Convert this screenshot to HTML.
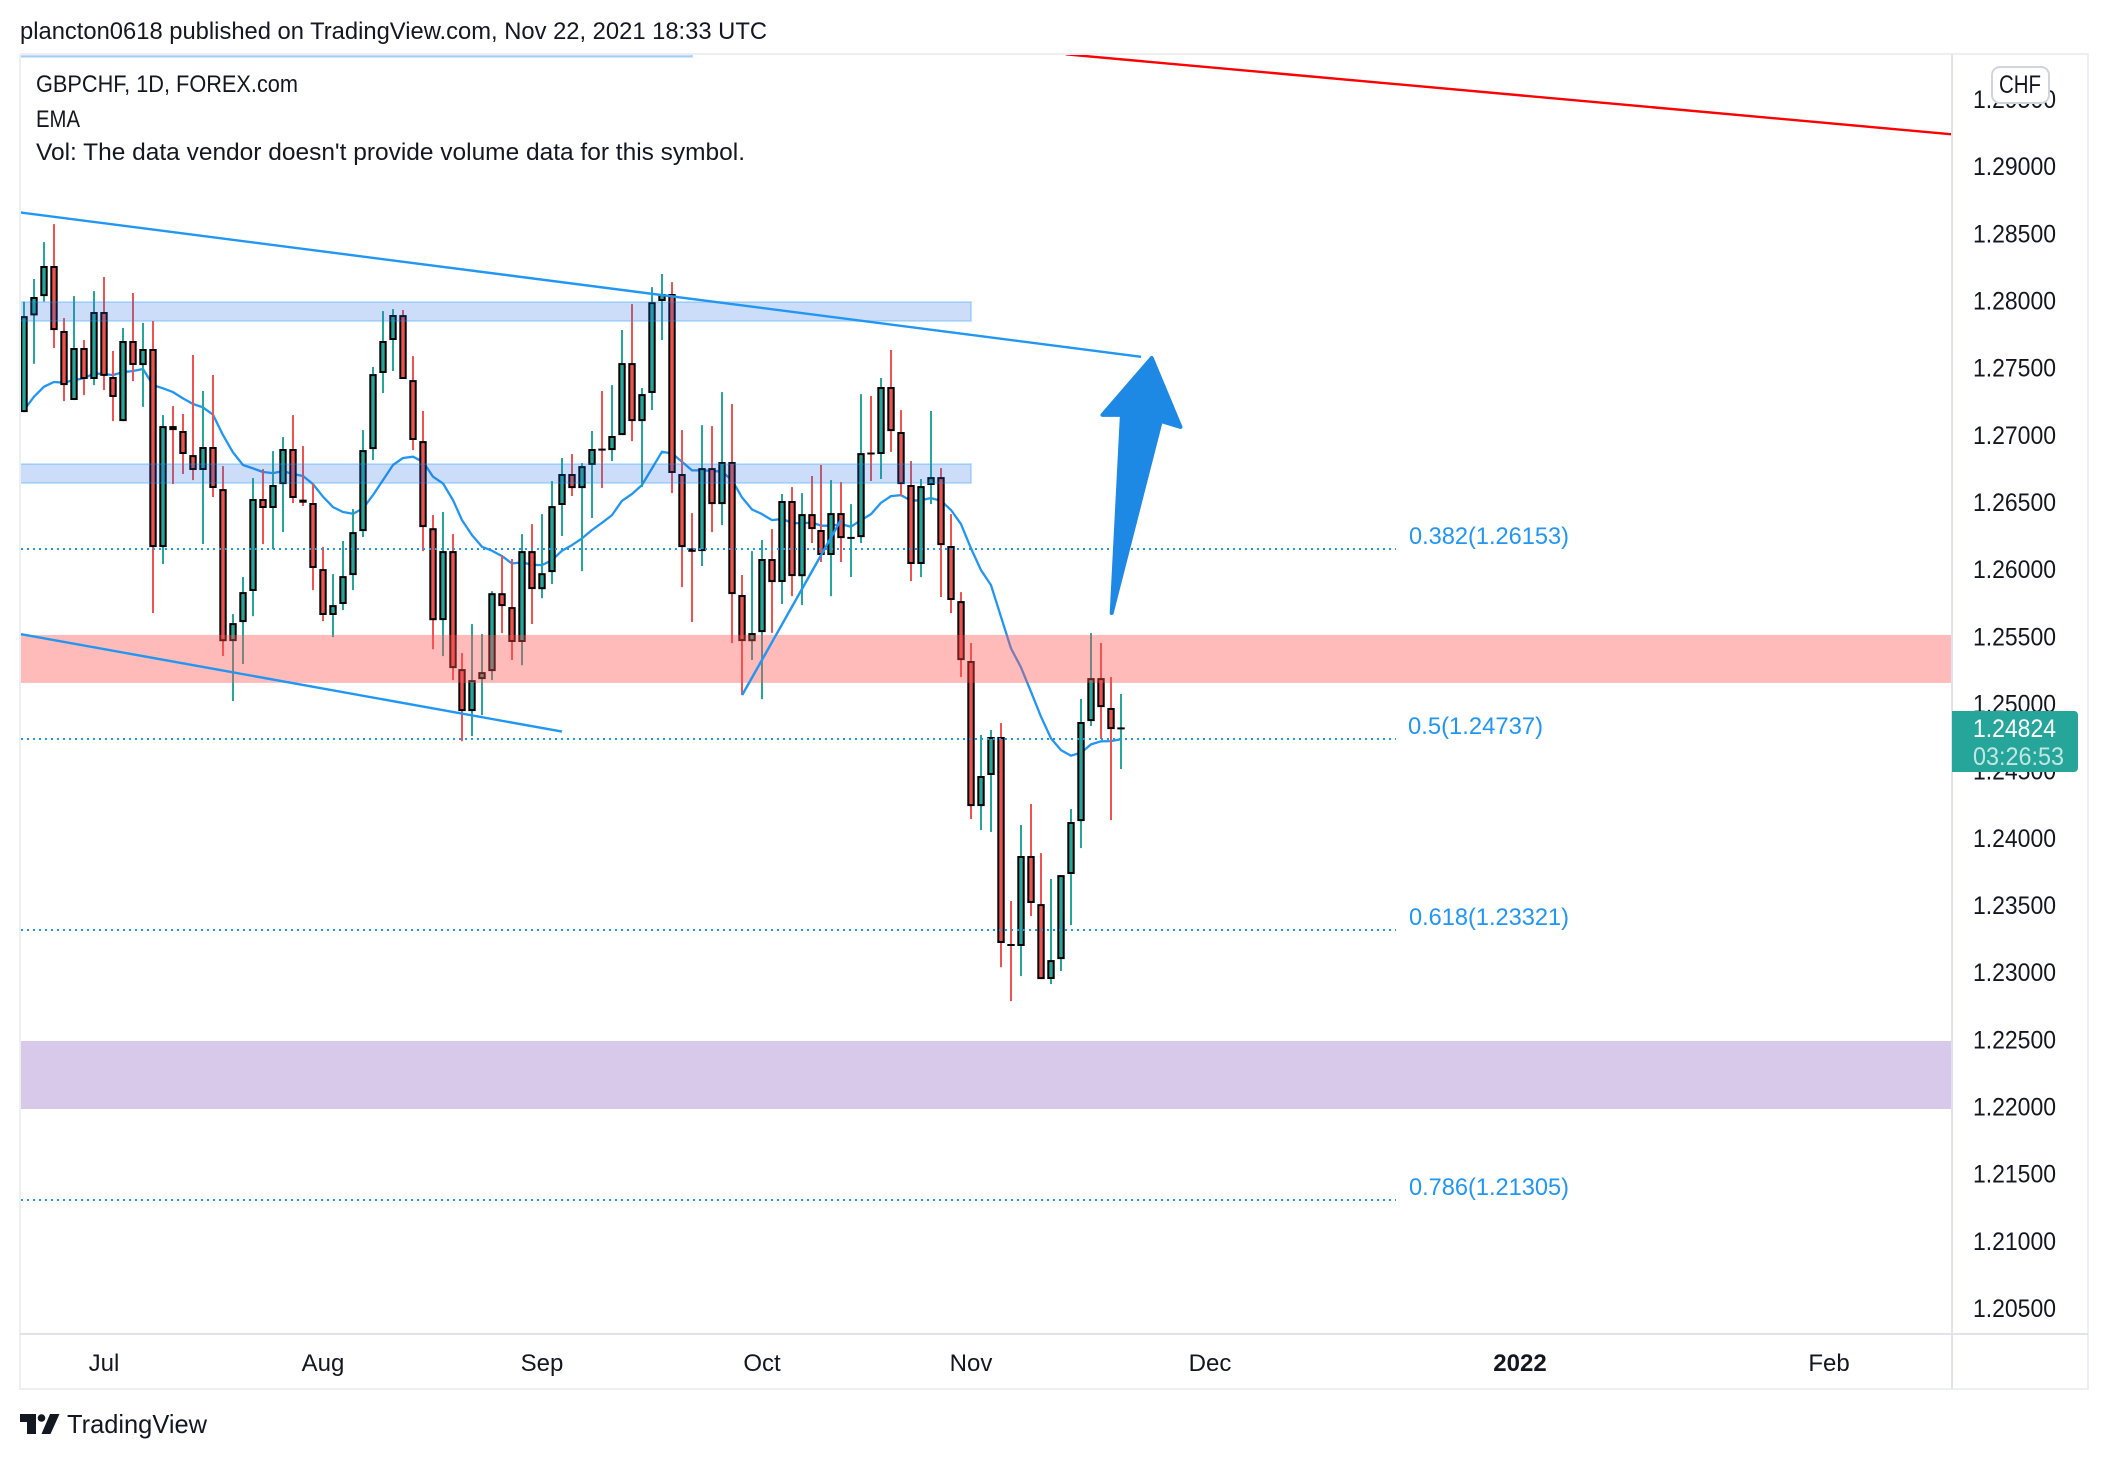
<!DOCTYPE html>
<html lang="en">
<head>
<meta charset="utf-8">
<title>GBPCHF daily chart</title>
<style>
html,body{margin:0;padding:0;background:#fff;}
svg{display:block;}
text{font-family:"Liberation Sans",sans-serif;fill:#131722;}
</style>
</head>
<body>
<svg id="chart" xmlns="http://www.w3.org/2000/svg" width="2108" height="1460" viewBox="0 0 2108 1460">
  <defs>
    <clipPath id="plot-clip"><rect x="21" y="55" width="1931" height="1279"/></clipPath>
  </defs>
  <rect x="0" y="0" width="2108" height="1460" fill="#ffffff"/>
  <text x="20" y="39" font-size="24" textLength="747" lengthAdjust="spacingAndGlyphs">plancton0618 published on TradingView.com, Nov 22, 2021 18:33 UTC</text>
  <g id="plot" clip-path="url(#plot-clip)"></g>
  <rect x="20" y="53" width="2069" height="2" fill="#eeeff5"/>
  <rect x="19" y="54" width="2" height="1336" fill="#eeeff5"/>
  <rect x="2087" y="54" width="2" height="1336" fill="#eeeff5"/>
  <rect x="20" y="1388" width="2069" height="2" fill="#eeeff5"/>
  <rect x="1951" y="54" width="2" height="1335" fill="#e0e3eb"/>
  <rect x="20" y="1333" width="2068" height="2" fill="#e0e3eb"/>
  <text x="36" y="92" font-size="24" textLength="262" lengthAdjust="spacingAndGlyphs">GBPCHF, 1D, FOREX.com</text>
  <text x="36" y="127" font-size="24" textLength="44" lengthAdjust="spacingAndGlyphs">EMA</text>
  <text x="36" y="160" font-size="24" textLength="709" lengthAdjust="spacingAndGlyphs">Vol: The data vendor doesn't provide volume data for this symbol.</text>
  <g id="price-axis"></g>
  <g id="time-axis"></g>
  <g>
    <rect x="1992" y="67" width="57" height="36" rx="8" fill="#ffffff" stroke="#d1d4dc" stroke-width="2"/>
    <text x="2020" y="93" font-size="25" text-anchor="middle" textLength="42" lengthAdjust="spacingAndGlyphs">CHF</text>
  </g>
  <g>
    <path d="M1952 711H2074a4 4 0 0 1 4 4V768a4 4 0 0 1-4 4H1952Z" fill="#26a69a"/>
    <text x="1973" y="737" font-size="25" style="fill:#ffffff" textLength="83" lengthAdjust="spacingAndGlyphs">1.24824</text>
    <text x="1973" y="765" font-size="25" style="fill:#c4e6e3" textLength="91" lengthAdjust="spacingAndGlyphs">03:26:53</text>
  </g>
  <g>
    <path d="M20 1414H36V1434H27V1422H20Z" fill="#131722"/>
    <circle cx="41.5" cy="1418" r="3.8" fill="#131722"/>
    <path d="M50 1414H59.500L50.500 1434H41.500Z" fill="#131722"/>
    <text x="67" y="1433" font-size="26" textLength="140" lengthAdjust="spacingAndGlyphs">TradingView</text>
  </g>
</svg>
<script>
const priceTicks = [1.295,1.29,1.285,1.28,1.275,1.27,1.265,1.26,1.255,1.25,1.245,1.24,1.235,1.23,1.225,1.22,1.215,1.21,1.205];
const monthLabels = ["Jul","Aug","Sep","Oct","Nov","Dec","2022","Feb"];
const monthBars = [8,30,52,74,95,119,150,181];

const opens = [1.27173,1.27893,1.28037,1.28261,1.27777,1.27263,1.27650,1.27419,1.27918,1.27434,
1.27106,1.27702,1.27523,1.27643,1.26168,1.27069,1.27032,1.26853,1.26742,1.26913,
1.26600,1.25468,1.25610,1.25841,1.26526,1.26459,1.26637,1.26898,1.26526,1.26496,
1.26004,1.25662,1.25744,1.25960,1.26287,1.26898,1.27464,1.27710,1.27895,1.27411,
1.26957,1.26309,1.25624,1.26138,1.25260,1.24947,1.25185,1.25245,1.25825,1.25721,
1.25461,1.26138,1.25855,1.25982,1.26481,1.26712,1.26607,1.26779,1.26898,1.26890,
1.27002,1.27538,1.27106,1.27315,1.28000,1.28052,1.26712,1.26163,1.26138,1.26756,
1.26488,1.26801,1.25811,1.25468,1.25535,1.26079,1.25908,1.26511,1.25952,1.26414,
1.26295,1.26109,1.26421,1.26233,1.26243,1.26868,1.26861,1.27360,1.27025,1.26630,
1.26042,1.26630,1.26689,1.26176,1.25766,1.25320,1.24240,1.24471,1.24754,1.23213,
1.23198,1.23868,1.23510,1.22952,1.23101,1.23734,1.24128,1.24873,1.25193,1.24970,1.24813];

const highs = [1.27995,1.28164,1.28439,1.28573,1.27873,1.28037,1.27710,1.28074,1.28179,1.27628,
1.27799,1.28060,1.27836,1.27851,1.27151,1.27218,1.27159,1.27598,1.27330,1.27449,
1.26771,1.25669,1.25945,1.26682,1.26749,1.26883,1.26987,1.27151,1.26920,1.26642,
1.26168,1.25967,1.26213,1.26451,1.27039,1.27509,1.27925,1.27940,1.27933,1.27590,
1.27181,1.26406,1.26429,1.26265,1.25379,1.25595,1.25520,1.25840,1.26108,1.26079,
1.26265,1.26339,1.26414,1.26659,1.26831,1.26860,1.26793,1.27032,1.27330,1.27374,
1.27784,1.27977,1.27352,1.28104,1.28201,1.28141,1.27039,1.26421,1.27076,1.27069,
1.27322,1.27233,1.25960,1.26138,1.26220,1.26302,1.26563,1.26615,1.26570,1.26697,
1.26779,1.26667,1.26652,1.26488,1.27307,1.27293,1.27427,1.27635,1.27188,1.26809,
1.26675,1.27181,1.26756,1.26414,1.25833,1.25454,1.24769,1.24806,1.24858,1.23533,
1.24099,1.24255,1.23890,1.23697,1.23726,1.24218,1.25037,1.25528,1.25454,1.25201,1.25074];

const lows = [1.27173,1.27533,1.27995,1.27650,1.27255,1.27263,1.27300,1.27374,1.27337,1.27106,
1.27106,1.27404,1.27211,1.25677,1.26042,1.26637,1.26712,1.26667,1.26191,1.26541,
1.25357,1.25022,1.25297,1.25654,1.26191,1.26153,1.26280,1.26496,1.26474,1.25848,
1.25617,1.25498,1.25699,1.25848,1.26243,1.26816,1.27315,1.27479,1.27419,1.26890,
1.26138,1.25408,1.25356,1.25178,1.24723,1.24761,1.24917,1.25178,1.25528,1.25327,
1.25289,1.25595,1.25788,1.25893,1.26250,1.26548,1.25989,1.26384,1.26607,1.26808,
1.27002,1.26957,1.26615,1.27188,1.27709,1.26570,1.25870,1.25610,1.26027,1.26280,
1.26332,1.25453,1.25066,1.25327,1.25036,1.25530,1.25744,1.25803,1.25736,1.26198,
1.26057,1.25803,1.26057,1.25945,1.26198,1.26660,1.26675,1.26876,1.26548,1.25915,
1.25945,1.26488,1.25796,1.25677,1.25200,1.24143,1.24061,1.24047,1.23041,1.22788,
1.22974,1.23421,1.22952,1.22915,1.23012,1.23354,1.23927,1.24836,1.24739,1.24136,1.24516];

const closes = [1.27888,1.28030,1.28261,1.27784,1.27374,1.27650,1.27419,1.27918,1.27442,1.27285,
1.27702,1.27523,1.27643,1.26168,1.27069,1.27039,1.26861,1.26742,1.26913,1.26608,
1.25468,1.25602,1.25833,1.26526,1.26459,1.26630,1.26898,1.26533,1.26503,1.26012,
1.25662,1.25736,1.25952,1.26280,1.26890,1.27456,1.27702,1.27896,1.27419,1.26965,
1.26317,1.25624,1.26138,1.25267,1.24947,1.25178,1.25237,1.25825,1.25729,1.25461,
1.26138,1.25855,1.25974,1.26473,1.26712,1.26607,1.26771,1.26898,1.26890,1.26995,
1.27538,1.27106,1.27307,1.27992,1.28052,1.26719,1.26168,1.26138,1.26756,1.26488,
1.26801,1.25818,1.25468,1.25528,1.26079,1.25907,1.26511,1.25952,1.26414,1.26302,
1.26109,1.26421,1.26235,1.26240,1.26868,1.26861,1.27360,1.27032,1.26637,1.26042,
1.26622,1.26689,1.26183,1.25774,1.25327,1.24240,1.24464,1.24754,1.23220,1.23198,
1.23868,1.23518,1.22952,1.23093,1.23726,1.24121,1.24866,1.25193,1.24977,1.24813,1.24824];

const emaValues = [1.27188,1.27288,1.27362,1.27397,1.27392,1.27412,1.27424,1.27461,1.27456,1.27449,
1.27471,1.27479,1.27494,1.27374,1.27350,1.27322,1.27275,1.27233,1.27208,1.27154,
1.27002,1.26873,1.26779,1.26754,1.26727,1.26719,1.26734,1.26712,1.26697,1.26637,
1.26543,1.26466,1.26429,1.26416,1.26456,1.26555,1.26667,1.26779,1.26831,1.26841,
1.26803,1.26692,1.26642,1.26518,1.26369,1.26257,1.26170,1.26141,1.26101,1.26046,
1.26054,1.26036,1.26034,1.26071,1.26141,1.26183,1.26233,1.26295,1.26349,1.26406,
1.26513,1.26563,1.26630,1.26754,1.26878,1.26865,1.26803,1.26739,1.26739,1.26736,
1.26729,1.26667,1.26538,1.26448,1.26414,1.26369,1.26377,1.26349,1.26344,1.26352,
1.26327,1.26327,1.26339,1.26320,1.26369,1.26414,1.26498,1.26548,1.26555,1.26513,
1.26518,1.26533,1.26513,1.26444,1.26339,1.26158,1.25997,1.25885,1.25649,1.25414,
1.25272,1.25091,1.24905,1.24744,1.24657,1.24615,1.24637,1.24699,1.24722,1.24724,1.24737];

const fibRatios = ["0.382","0.5","0.618","0.786"];
const fibPrices = [1.26153,1.24737,1.23321,1.21305];
const fibEndBar = 137.56;

const zoneNames = ["top-edge-zone","upper-resistance-zone","mid-resistance-zone","red-pivot-zone","purple-support-zone"];
const zoneTops = [1.30500,1.27993,1.26787,1.25514,1.22491];
const zoneBottoms = [1.29817,1.27851,1.26645,1.25157,1.21985];
const zoneEndBars = [66.97,94.95,94.95,300,300];

const trendNames = ["upper-channel-line","lower-channel-line","rising-trend-line","red-long-trend-line"];
const trendStartBars = [-0.42,-0.42,72,104.45];
const trendStartPrices = [1.28660,1.25521,1.25067,1.29837];
const trendEndBars = [112,53.93,81.9,193.3];
const trendEndPrices = [1.27585,1.24794,1.26370,1.29241];

const arrowBars = [113.06,108.13,110.08,109.05,113.98,115.95];
const arrowPrices = [1.27576,1.27152,1.27152,1.25677,1.27107,1.27062];

const SVG_NS = "http://www.w3.org/2000/svg";
const plot = document.getElementById("plot");
const priceAxis = document.getElementById("price-axis");
const timeAxis = document.getElementById("time-axis");

function yScale(price){ return 166.7 + (1.29 - price) * 13432; }
function xExact(bar){ return 24.23 + 9.972 * bar; }
function xScale(bar){ return Math.floor(xExact(bar)); }
function make(tag, parent){
  const el = document.createElementNS(SVG_NS, tag);
  parent.appendChild(el);
  return el;
}
function set(el, key, value){ el.setAttribute(key, value); }

// EMA sits underneath the candles
const emaPath = make("path", plot);


set(emaPath, "d", emaValues.map((v, i) => (i ? "L" : "M") + xScale(i) + " " + yScale(v).toFixed(1)).join(""));
set(emaPath, "fill", "none");
set(emaPath, "stroke", "#2196f3");
set(emaPath, "stroke-width", "2.3");
set(emaPath, "stroke-linejoin", "round");

// candles
opens.forEach((open, i) => {
  const close = closes[i];
  const up = close >= open;
  const cx = xScale(i);
  const wickColor = up ? "#26a69a" : "#ef5350";
  const group = make("g", plot);
  
  
  const wick = make("rect", group);
  
  
  const yh = yScale(highs[i]);
  const yl = yScale(lows[i]);
  set(wick, "x", cx - 1);
  set(wick, "y", yh.toFixed(1));
  set(wick, "width", 2);
  set(wick, "height", (yl - yh).toFixed(1));
  set(wick, "fill", wickColor);
  const body = make("rect", group);
  
  
  const yt = yScale(Math.max(open, close));
  const yb = yScale(Math.min(open, close));
  const h = yb - yt;
  if (h < 3.5) {
    set(body, "x", cx - 3.7);
    set(body, "y", ((yt + yb) / 2 - 1).toFixed(1));
    set(body, "width", 7.4);
    set(body, "height", Math.max(2, h).toFixed(1));
    set(body, "fill", "#000000");
  } else {
    set(body, "x", cx - 2.7);
    set(body, "y", (yt + 1).toFixed(1));
    set(body, "width", 5.4);
    set(body, "height", (h - 2).toFixed(1));
    set(body, "fill", up ? "#26a69a" : "#ef5350");
    set(body, "stroke", "#000000");
    set(body, "stroke-width", 2);
  }
});

// zones, drawn over the candles with transparency
zoneNames.forEach((name, i) => {
  const zone = make("rect", plot);
  
  
  const top = yScale(zoneTops[i]);
  const bottom = yScale(zoneBottoms[i]);
  const right = xExact(zoneEndBars[i]);
  set(zone, "x", 10);
  set(zone, "y", top.toFixed(1));
  set(zone, "width", (right - 10).toFixed(1));
  set(zone, "height", (bottom - top).toFixed(1));
  if (i < 3) {
    set(zone, "fill", "rgba(33,110,230,0.23)");
    set(zone, "stroke", "rgba(33,150,243,0.25)");
    set(zone, "stroke-width", 2);
  } else if (i === 3) {
    set(zone, "fill", "rgba(255,82,82,0.4)");
  } else {
    set(zone, "fill", "#d8c9eb");
  }
});

// fibonacci levels
fibPrices.forEach((price, i) => {
  const line = make("line", plot);
  
  
  const y = Math.round(yScale(price));
  set(line, "x1", 21);
  set(line, "x2", xExact(fibEndBar).toFixed(1));
  set(line, "y1", y);
  set(line, "y2", y);
  set(line, "stroke", "#2196f3");
  set(line, "stroke-width", 2);
  set(line, "stroke-dasharray", "2 4");
  const label = make("text", plot);
  
  
  const txt = fibRatios[i] + "(" + price.toFixed(5) + ")";
  set(label, "x", i === 1 ? 1408 : 1409);
  set(label, "y", y - 5);
  set(label, "font-size", 24.5);
  set(label, "textLength", i === 1 ? 135 : 160);
  set(label, "lengthAdjust", "spacingAndGlyphs");
  label.style.fill = "#2196f3";
  label.textContent = txt;
});

// trend lines
trendNames.forEach((name, i) => {
  const line = make("line", plot);
  
  
  set(line, "x1", xExact(trendStartBars[i]).toFixed(1));
  set(line, "y1", yScale(trendStartPrices[i]).toFixed(1));
  set(line, "x2", xExact(trendEndBars[i]).toFixed(1));
  set(line, "y2", yScale(trendEndPrices[i]).toFixed(1));
  set(line, "stroke", i === 3 ? "#ff0000" : "#2196f3");
  set(line, "stroke-width", 2.4);
});

// forecast arrow
const arrow = make("polygon", plot);


set(arrow, "points", arrowBars.map((b, i) => xExact(b).toFixed(1) + "," + yScale(arrowPrices[i]).toFixed(1)).join(" "));
set(arrow, "fill", "#1e88e5");
set(arrow, "stroke", "#1e88e5");
set(arrow, "stroke-width", 4);
set(arrow, "stroke-linejoin", "round");

// price axis labels
priceTicks.forEach((tick) => {
  const label = make("text", priceAxis);
  
  
  set(label, "x", 1973);
  set(label, "y", (yScale(tick) + 8.5).toFixed(1));
  set(label, "font-size", 25);
  set(label, "textLength", 83);
  set(label, "lengthAdjust", "spacingAndGlyphs");
  label.textContent = tick.toFixed(5);
});

// time axis labels
monthLabels.forEach((name, i) => {
  const label = make("text", timeAxis);
  
  
  set(label, "x", xScale(monthBars[i]));
  set(label, "y", 1371);
  set(label, "font-size", 24);
  set(label, "text-anchor", "middle");
  if (name === "2022") set(label, "font-weight", "bold");
  label.textContent = name;
});
</script>
</body>
</html>
